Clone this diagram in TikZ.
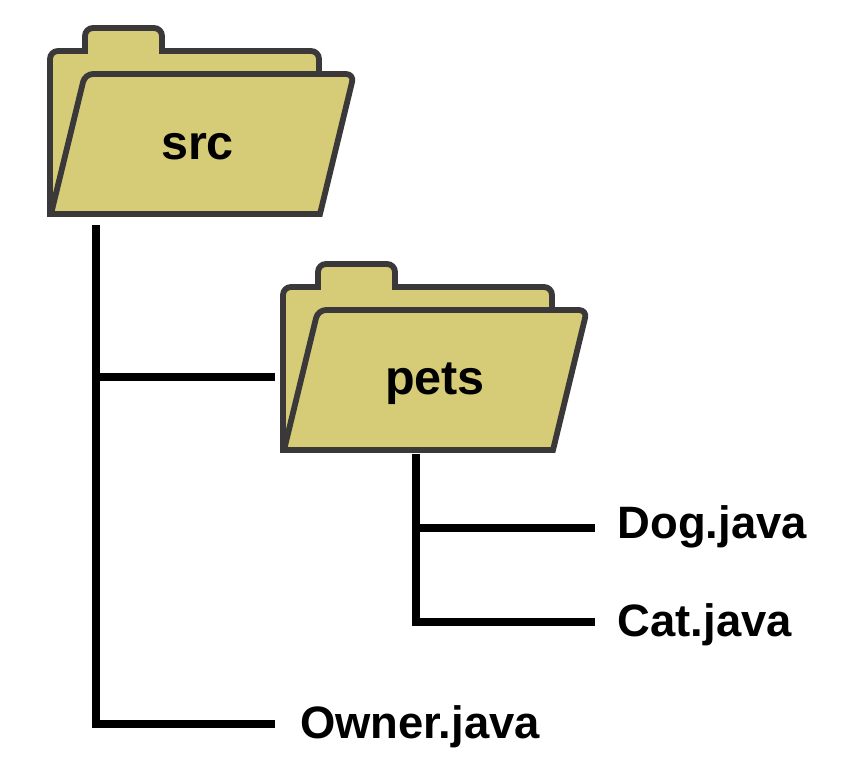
\documentclass[tikz,border=0pt]{standalone}
\usepackage{fontspec}
\setmainfont{Liberation Sans}
\definecolor{folderfill}{HTML}{D6CB76}
\definecolor{folderline}{HTML}{3A3838}
\tikzset{%
  folderpath/.style = {draw=folderline, fill=folderfill, line width=5.8pt, miter limit=10},%
  dirname/.style    = {anchor=base, inner sep=0pt, font=\fontsize{48.5}{52}\selectfont\bfseries},%
  filename/.style   = {anchor=west, inner ysep=0pt, text height=28pt, text depth=0pt,%
                       font=\fontsize{45.4}{50}\selectfont\bfseries},%
  branch/.style     = {draw=black, line width=8pt},%
  folder/.pic = {
    \path [folderpath] (0,0) [rounded corners=8pt] -- (0,-163) [sharp corners] -- (35,-163)
      [rounded corners=8pt] -- (35,-186) -- (112,-186) [sharp corners] -- (112,-163)
      [rounded corners=8pt] -- (269,-163) [sharp corners] -- (269,0) -- cycle;
    \path [folderpath] (1,0) [rounded corners=8pt] -- (35,-140) -- (304,-140) [sharp corners] -- (270,0) -- cycle;
  }%
}
\begin{document}
\begin{tikzpicture}[x=1pt,y=-1pt]
	\useasboundingbox (0,0) rectangle (844,773);
	% folders
	\pic at (50,214) {folder};
	\pic at (283,450) {folder};
	\node [dirname] (src) at (197.5,160) {src};
	\node [dirname] (pets) at (435,394) {pets};
	% files
	\node [filename, inner xsep=25pt] (owner) at (275,724) {Owner.java};
	\node [filename, inner xsep=22.5pt] (dog) at (595,528) {\raisebox{4pt}{Dog.java}};
	\node [filename, inner xsep=22.5pt] (cat) at (595,622) {Cat.java};
	% connectors
	\coordinate (srcfoot) at (96,225);
	\coordinate (petsfoot) at (416,454);
	\coordinate (petsleft) at (275,377);
	\draw [branch] (srcfoot) |- (owner.west);
	\draw [branch] (srcfoot |- petsleft) -- (petsleft);
	\draw [branch] (petsfoot) |- (cat.west);
	\draw [branch] (petsfoot |- dog.west) -- (dog.west);
\end{tikzpicture}
\end{document}
